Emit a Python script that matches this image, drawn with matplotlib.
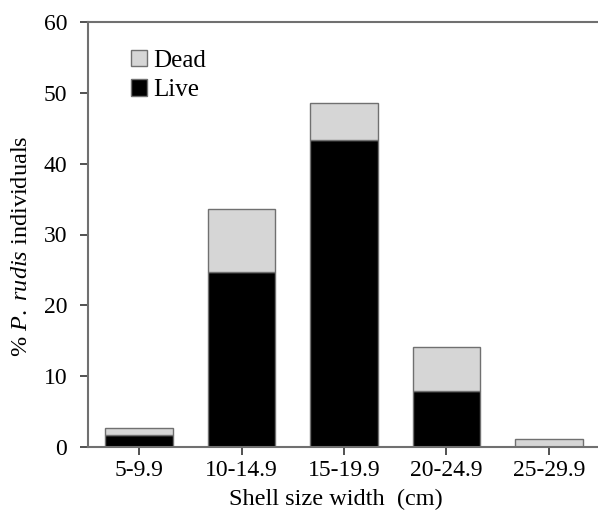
import matplotlib.pyplot as plt

# size classes and % of individuals
categories = ['5-9.9', '10-14.9', '15-19.9', '20-24.9', '25-29.9']
live = [1.7, 24.7, 43.4, 7.9, 0.0]
dead = [1.0, 8.9, 5.1, 6.2, 1.1]

plt.rcParams['font.family'] = 'Liberation Serif'
plt.rcParams['mathtext.fontset'] = 'custom'
plt.rcParams['mathtext.rm'] = 'Liberation Serif'
plt.rcParams['mathtext.it'] = 'Liberation Serif:italic'

fig = plt.figure(figsize=(5.98, 5.24), dpi=100)
ax = fig.add_axes([88 / 598, 77 / 524, 512 / 598, 425 / 524])

x = range(len(categories))
edge = '#707070'
ax.bar(x, live, width=0.66, color='black', edgecolor=edge, linewidth=1, label='Live')
ax.bar(x, dead, width=0.66, bottom=live, color='#d6d6d6', edgecolor=edge, linewidth=1, label='Dead')

ax.set_xlim(-0.5, 4.5)
ax.set_ylim(0, 60)
ax.set_yticks(range(0, 61, 10))
ax.set_xticks(list(x))
ax.set_xticklabels(categories)
ax.tick_params(labelsize=17, length=6, width=1.2, color='#333333', direction='out')
ax.tick_params(axis='y', pad=9)
ax.tick_params(axis='x', pad=3)

for s in ax.spines.values():
    s.set_color(edge)
    s.set_linewidth(1.5)

ax.set_xlabel('Shell size width  (cm)', fontsize=17.5)
ax.set_ylabel(r'% $\it{P.\ rudis}$ individuals', fontsize=17.5)
ax.xaxis.set_label_coords(0.484, -0.098)
ax.yaxis.set_label_coords(-0.11, 0.473)

h, l = ax.get_legend_handles_labels()
ax.legend(h[::-1], l[::-1], loc='upper left', bbox_to_anchor=(0.055, 0.97), frameon=False,
          fontsize=18, handlelength=0.65, handleheight=0.65, handletextpad=0.25,
          labelspacing=0.3, borderaxespad=0.2)

fig.savefig('out.png', dpi=100)
